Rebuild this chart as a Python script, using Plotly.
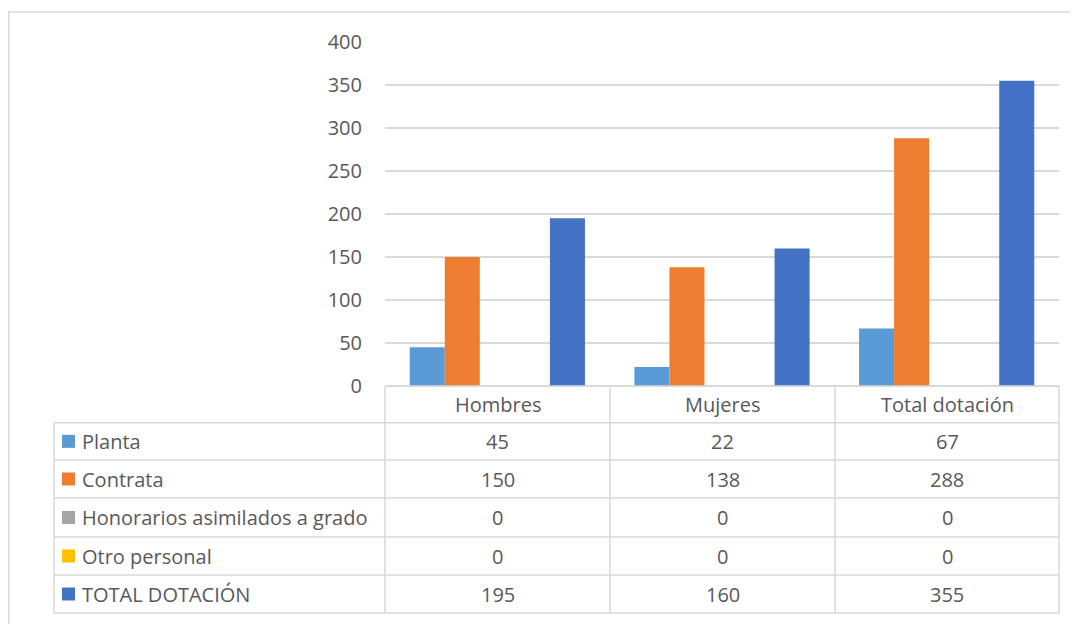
import plotly.graph_objects as go

categories = ["Hombres", "Mujeres", "Total dotación"]
series_names = ["Planta", "Contrata", "Honorarios asimilados a grado", "Otro personal", "TOTAL DOTACIÓN"]
planta = [45, 22, 67]
contrata = [150, 138, 288]
honorarios = [0, 0, 0]
otro = [0, 0, 0]
total = [195, 160, 355]
y_ticks = [0, 50, 100, 150, 200, 250, 300, 350, 400]

series_values = [planta, contrata, honorarios, otro, total]
colors = ["#5B9BD5", "#ED7D31", "#A5A5A5", "#FFC000", "#4472C4"]

OFF = 8  # page body margin
W, H = 1070, 616
# plot area in page pixels
PL, PR, PT, PB = 385, 1059, 42, 386
L, R, T, B = PL - OFF, PR - OFF, PT - OFF, PB - OFF
FONT = "Open Sans"
TXT = "#595959"
GRID = "#D9D9D9"
fs = 20

fig = go.Figure()
for name, vals, col in zip(series_names, series_values, colors):
    fig.add_trace(go.Bar(x=categories, y=vals, name=name, marker=dict(color=col, line=dict(width=0)),
                         hoverinfo="skip"))

def px2x(px):
    return (px - PL) / (PR - PL)

def py2y(py):
    return (PB - py) / (PB - PT)

shapes = []
ann = []
line = dict(color=GRID, width=1.5)

# outer chart border
shapes.append(dict(type="rect", xref="paper", yref="paper", x0=px2x(8.8), x1=px2x(1100), y0=py2y(12), y1=py2y(660),
                   line=dict(color=GRID, width=1.5), layer="below"))

# table geometry (page pixels)
row_edges = [386, 422.7, 460, 498, 537, 575, 613]
left_px = 54
col_edges = [385, 610, 835, 1059]

for i, ry in enumerate(row_edges):
    x0 = col_edges[0] if i == 0 else left_px
    shapes.append(dict(type="line", xref="paper", yref="paper", x0=px2x(x0), x1=px2x(col_edges[-1]),
                       y0=py2y(ry), y1=py2y(ry), line=line))
shapes.append(dict(type="line", xref="paper", yref="paper", x0=px2x(left_px), x1=px2x(left_px),
                   y0=py2y(row_edges[1]), y1=py2y(row_edges[-1]), line=line))
for cx in col_edges:
    shapes.append(dict(type="line", xref="paper", yref="paper", x0=px2x(cx), x1=px2x(cx),
                       y0=py2y(row_edges[0]), y1=py2y(row_edges[-1]), line=line))

for j, cat in enumerate(categories):
    cx = (col_edges[j] + col_edges[j + 1]) / 2
    cy = (row_edges[0] + row_edges[1]) / 2
    ann.append(dict(xref="paper", yref="paper", x=px2x(cx), y=py2y(cy), text=cat, showarrow=False,
                    xanchor="center", yanchor="middle", font=dict(family=FONT, size=fs, color=TXT)))
for i, (name, vals, col) in enumerate(zip(series_names, series_values, colors)):
    cy = (row_edges[i + 1] + row_edges[i + 2]) / 2
    shapes.append(dict(type="rect", xref="paper", yref="paper", x0=px2x(62), x1=px2x(75),
                       y0=py2y(cy + 6.5), y1=py2y(cy - 6.5), fillcolor=col, line=dict(width=0)))
    ann.append(dict(xref="paper", yref="paper", x=px2x(80), y=py2y(cy), text=name, showarrow=False,
                    xanchor="left", yanchor="middle", font=dict(family=FONT, size=fs, color=TXT)))
    for j, v in enumerate(vals):
        cx = (col_edges[j] + col_edges[j + 1]) / 2
        ann.append(dict(xref="paper", yref="paper", x=px2x(cx), y=py2y(cy), text=str(v), showarrow=False,
                        xanchor="center", yanchor="middle", font=dict(family=FONT, size=fs, color=TXT)))

fig.update_layout(
    width=W, height=H,
    margin=dict(l=L, r=W - R, t=T, b=H - B, pad=0),
    paper_bgcolor="white", plot_bgcolor="white",
    barmode="group", bargap=0.22, bargroupgap=0,
    showlegend=False,
    shapes=shapes, annotations=ann,
    xaxis=dict(showticklabels=False, showgrid=False, zeroline=False, showline=False, ticks=""),
    yaxis=dict(range=[0, 400], tickvals=y_ticks, showgrid=True, gridcolor=GRID, gridwidth=1.5,
               zeroline=True, zerolinecolor=GRID, zerolinewidth=1.5, showline=False,
               tickfont=dict(family=FONT, size=fs, color=TXT), ticklabelstandoff=22),
)

fig.write_html("out.html")
